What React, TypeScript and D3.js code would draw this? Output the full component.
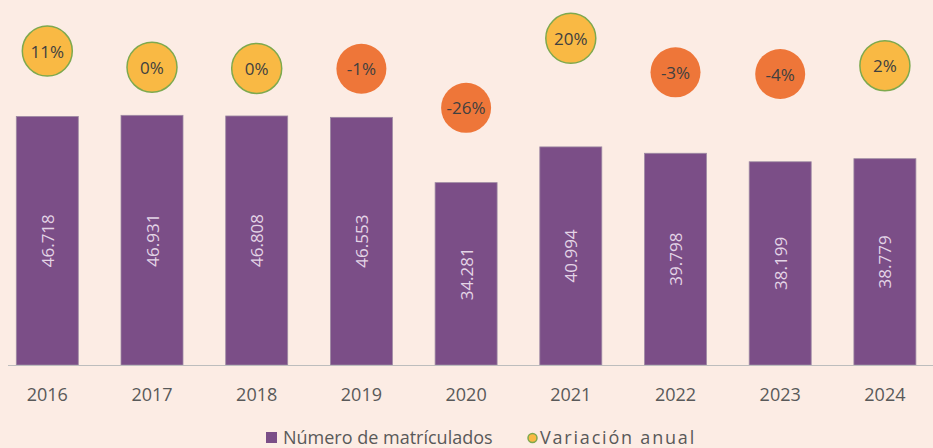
import React from "react";
import * as d3 from "d3";

const years = ["2016", "2017", "2018", "2019", "2020", "2021", "2022", "2023", "2024"];
const enrolled = [46718, 46931, 46808, 46553, 34281, 40994, 39798, 38199, 38779];
const variation = [11.2, 0.5, -0.3, -0.5, -26.4, 19.6, -2.9, -4.0, 1.5];
const variationLabels = ["11%", "0%", "0%", "-1%", "-26%", "20%", "-3%", "-4%", "2%"];
const legendLabels = ["Número de matrículados", "Variación anual"];

const W = 933;
const H = 448;
const BG = "#FCECE4";
const PURPLE = "#7B4E87";
const ORANGE = "#EE7639";
const YELLOW = "#F9B944";
const GREEN = "#7EA94E";
const FONT = "'Open Sans', sans-serif";

const fmtLocale = d3.formatLocale({ decimal: ",", thousands: ".", grouping: [3], currency: ["", ""] });
const fmt = fmtLocale.format(",");

export default function App() {
  const step = 104.7;
  const c0 = 47.3;
  const cN = c0 + step * (years.length - 1);
  const pad = 1 - 62 / step;
  const x = d3
    .scaleBand<string>()
    .domain(years)
    .range([c0 - step / 2, cN + step / 2])
    .paddingInner(pad)
    .paddingOuter(pad / 2);
  const bw = x.bandwidth();
  const baseY = 365;
  const y = d3.scaleLinear().domain([0, 50000]).range([baseY, 99]);
  const yv = d3.scaleLinear().domain([-30, 25]).range([113.3, 30.2]);
  const r = 25;

  return (
    <svg width={W} height={H} style={{ position: "absolute", left: 0, top: 0, display: "block" }} fontFamily={FONT}>
      <rect x={0} y={0} width={W} height={H} fill={BG} />
      {years.map((yr, i) => {
        const bx = x(yr)!;
        const top = y(enrolled[i]);
        const cx = bx + bw / 2;
        const mid = (top + baseY) / 2;
        return (
          <g key={yr}>
            <rect x={bx} y={top} width={bw} height={baseY - top} fill={PURPLE} stroke="#9E8AA3" strokeWidth={0.8} />
            <text
              transform={`translate(${cx},${mid}) rotate(-90)`}
              textAnchor="middle"
              dominantBaseline="central"
              fontSize={17}
              fill="#E3D4E6"
            >
              {fmt(enrolled[i])}
            </text>
          </g>
        );
      })}
      <line x1={8} x2={W} y1={baseY + 0.5} y2={baseY + 0.5} stroke="#BDBDBD" strokeWidth={1.2} />
      {years.map((yr) => (
        <text key={"l" + yr} x={x(yr)! + bw / 2} y={394} textAnchor="middle" dominantBaseline="central" fontSize={18} fill="#595959">
          {yr}
        </text>
      ))}
      {years.map((yr, i) => {
        const cx = x(yr)! + bw / 2;
        const cy = yv(variation[i]);
        const pos = variation[i] >= 0 || variationLabels[i] === "0%";
        return (
          <g key={"v" + yr}>
            <circle cx={cx} cy={cy} r={r} fill={pos ? YELLOW : ORANGE} stroke={pos ? GREEN : "none"} strokeWidth={1.5} />
            <text x={cx} y={cy} textAnchor="middle" dominantBaseline="central" fontSize={17} fill="#404040">
              {variationLabels[i]}
            </text>
          </g>
        );
      })}
      <rect x={266} y={432} width={11} height={11} fill={PURPLE} />
      <text x={283} y={437} dominantBaseline="central" fontSize={18} fill="#595959">
        {legendLabels[0]}
      </text>
      <circle cx={532.5} cy={438} r={4.5} fill={YELLOW} stroke={GREEN} strokeWidth={1.5} />
      <text x={540} y={437} dominantBaseline="central" fontSize={18} letterSpacing={1.8} fill="#595959">
        {legendLabels[1]}
      </text>
    </svg>
  );
}
